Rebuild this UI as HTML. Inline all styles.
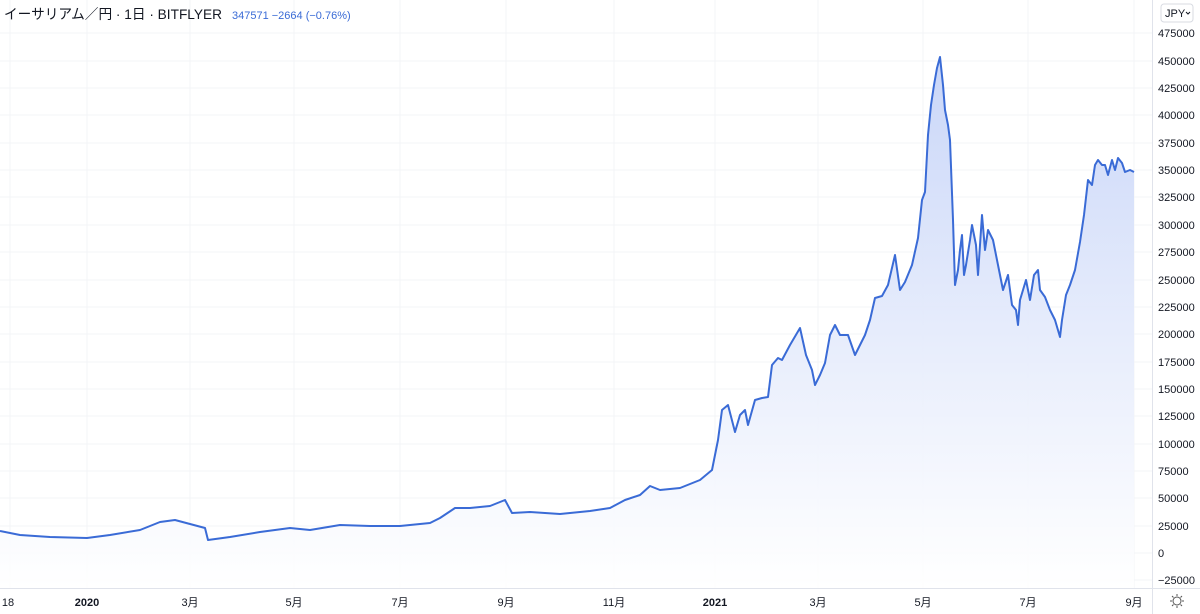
<!DOCTYPE html>
<html><head><meta charset="utf-8"><style>
html,body{margin:0;padding:0;background:#fff;width:1200px;height:614px;overflow:hidden}
svg{display:block}
text{font-family:"Liberation Sans","Noto Sans CJK JP",sans-serif}
</style></head><body>
<svg width="1200" height="614" viewBox="0 0 1200 614" xmlns="http://www.w3.org/2000/svg">
<defs><linearGradient id="g" x1="0" y1="0" x2="0" y2="1">
<stop offset="0" stop-color="#c9d6f8"/><stop offset="1" stop-color="#ffffff" stop-opacity="0.9"/></linearGradient></defs>
<g stroke="#f3f4f7" stroke-width="1">
<line x1="10" y1="0" x2="10" y2="588"/><line x1="87" y1="0" x2="87" y2="588"/><line x1="190" y1="0" x2="190" y2="588"/><line x1="294" y1="0" x2="294" y2="588"/><line x1="400" y1="0" x2="400" y2="588"/><line x1="506" y1="0" x2="506" y2="588"/><line x1="614" y1="0" x2="614" y2="588"/><line x1="715" y1="0" x2="715" y2="588"/><line x1="818" y1="0" x2="818" y2="588"/><line x1="923" y1="0" x2="923" y2="588"/><line x1="1028" y1="0" x2="1028" y2="588"/><line x1="1134" y1="0" x2="1134" y2="588"/>
<line x1="0" y1="33" x2="1152" y2="33"/><line x1="0" y1="61" x2="1152" y2="61"/><line x1="0" y1="88" x2="1152" y2="88"/><line x1="0" y1="115" x2="1152" y2="115"/><line x1="0" y1="143" x2="1152" y2="143"/><line x1="0" y1="170" x2="1152" y2="170"/><line x1="0" y1="197" x2="1152" y2="197"/><line x1="0" y1="225" x2="1152" y2="225"/><line x1="0" y1="252" x2="1152" y2="252"/><line x1="0" y1="280" x2="1152" y2="280"/><line x1="0" y1="307" x2="1152" y2="307"/><line x1="0" y1="334" x2="1152" y2="334"/><line x1="0" y1="362" x2="1152" y2="362"/><line x1="0" y1="389" x2="1152" y2="389"/><line x1="0" y1="416" x2="1152" y2="416"/><line x1="0" y1="444" x2="1152" y2="444"/><line x1="0" y1="471" x2="1152" y2="471"/><line x1="0" y1="498" x2="1152" y2="498"/><line x1="0" y1="526" x2="1152" y2="526"/><line x1="0" y1="553" x2="1152" y2="553"/><line x1="0" y1="580" x2="1152" y2="580"/>
</g>
<path fill="url(#g)" d="M0,531 L20,535 L50,537 L87,538 L110,535 L140,530 L160,522 L175,520 L190,524 L205,528 L208,540 L230,537 L260,532 L290,528 L310,530 L340,525 L370,526 L400,526 L430,523 L440,518 L455,508 L470,508 L490,506 L505,500 L512,513 L530,512 L560,514 L590,511 L610,508 L625,500 L640,495 L650,486 L660,490 L680,488 L700,480 L712,470 L718,440 L722,410 L728,405 L735,432 L740,415 L745,410 L748,425 L755,400 L762,398 L768,397 L772,365 L778,358 L782,360 L790,345 L800,328 L806,355 L812,370 L815,385 L820,375 L825,363 L830,335 L835,325 L840,335 L848,335 L855,355 L860,345 L865,335 L870,320 L875,298 L882,296 L888,285 L895,255 L900,290 L905,282 L912,265 L918,238 L922,200 L925,192 L928,135 L931,105 L934,85 L937,68 L940,57 L943,85 L945,110 L948,125 L950,140 L953,220 L955,285 L958,270 L960,250 L962,235 L964,275 L966,265 L970,240 L972,225 L976,245 L978,275 L982,215 L985,250 L988,230 L993,240 L998,265 L1003,290 L1008,275 L1012,305 L1016,310 L1018,325 L1020,300 L1026,280 L1030,300 L1034,275 L1038,270 L1040,290 L1045,297 L1050,310 L1055,320 L1060,337 L1062,320 L1066,295 L1070,285 L1075,270 L1080,242 L1084,215 L1088,180 L1092,185 L1095,165 L1098,160 L1102,165 L1105,165 L1108,175 L1112,160 L1115,170 L1118,158 L1122,163 L1125,172 L1130,170 L1134,172 L1134,588 L0,588 Z"/>
<polyline fill="none" stroke="#3a6bd6" stroke-width="2" stroke-linejoin="round" points="0,531 20,535 50,537 87,538 110,535 140,530 160,522 175,520 190,524 205,528 208,540 230,537 260,532 290,528 310,530 340,525 370,526 400,526 430,523 440,518 455,508 470,508 490,506 505,500 512,513 530,512 560,514 590,511 610,508 625,500 640,495 650,486 660,490 680,488 700,480 712,470 718,440 722,410 728,405 735,432 740,415 745,410 748,425 755,400 762,398 768,397 772,365 778,358 782,360 790,345 800,328 806,355 812,370 815,385 820,375 825,363 830,335 835,325 840,335 848,335 855,355 860,345 865,335 870,320 875,298 882,296 888,285 895,255 900,290 905,282 912,265 918,238 922,200 925,192 928,135 931,105 934,85 937,68 940,57 943,85 945,110 948,125 950,140 953,220 955,285 958,270 960,250 962,235 964,275 966,265 970,240 972,225 976,245 978,275 982,215 985,250 988,230 993,240 998,265 1003,290 1008,275 1012,305 1016,310 1018,325 1020,300 1026,280 1030,300 1034,275 1038,270 1040,290 1045,297 1050,310 1055,320 1060,337 1062,320 1066,295 1070,285 1075,270 1080,242 1084,215 1088,180 1092,185 1095,165 1098,160 1102,165 1105,165 1108,175 1112,160 1115,170 1118,158 1122,163 1125,172 1130,170 1134,172"/>
<line x1="1152.5" y1="0" x2="1152.5" y2="614" stroke="#e0e3eb"/>
<line x1="0" y1="588.5" x2="1200" y2="588.5" stroke="#e0e3eb"/>
<g font-size="11" fill="#131722">
<text x="1158" y="37">475000</text><text x="1158" y="65">450000</text><text x="1158" y="92">425000</text><text x="1158" y="119">400000</text><text x="1158" y="147">375000</text><text x="1158" y="174">350000</text><text x="1158" y="201">325000</text><text x="1158" y="229">300000</text><text x="1158" y="256">275000</text><text x="1158" y="284">250000</text><text x="1158" y="311">225000</text><text x="1158" y="338">200000</text><text x="1158" y="366">175000</text><text x="1158" y="393">150000</text><text x="1158" y="420">125000</text><text x="1158" y="448">100000</text><text x="1158" y="475">75000</text><text x="1158" y="502">50000</text><text x="1158" y="530">25000</text><text x="1158" y="557">0</text><text x="1158" y="584">−25000</text>
</g>
<g font-size="11" fill="#131722" text-anchor="middle">
<text x="8" y="606">18</text><text x="87" y="606" font-weight="bold">2020</text><text x="190" y="606">3月</text><text x="294" y="606">5月</text><text x="400" y="606">7月</text><text x="506" y="606">9月</text><text x="614" y="606">11月</text><text x="715" y="606" font-weight="bold">2021</text><text x="818" y="606">3月</text><text x="923" y="606">5月</text><text x="1028" y="606">7月</text><text x="1134" y="606">9月</text>
</g>
<g stroke="#555" fill="none"><circle cx="1177" cy="601" r="4"/><path d="M1177,594v2M1177,606v2M1170,601h2M1182,601h2M1172,596l1.5,1.5M1180.5,604.5l1.5,1.5M1182,596l-1.5,1.5M1173.5,604.5l-1.5,1.5"/></g>
<rect x="1161" y="4" width="32" height="18" rx="3" fill="#fff" stroke="#d8dbe2"/>
<text x="1165" y="17" font-size="11" fill="#131722">JPY</text><path d="M1186,12l2,2l2,-2" stroke="#131722" fill="none"/>
<text x="4" y="19" font-size="14" fill="#131722" textLength="218" lengthAdjust="spacingAndGlyphs">イーサリアム／円 · 1日 · BITFLYER</text>
<text x="232" y="19" font-size="11" fill="#3a6bd6">347571  −2664 (−0.76%)</text>
</svg>
</body></html>
